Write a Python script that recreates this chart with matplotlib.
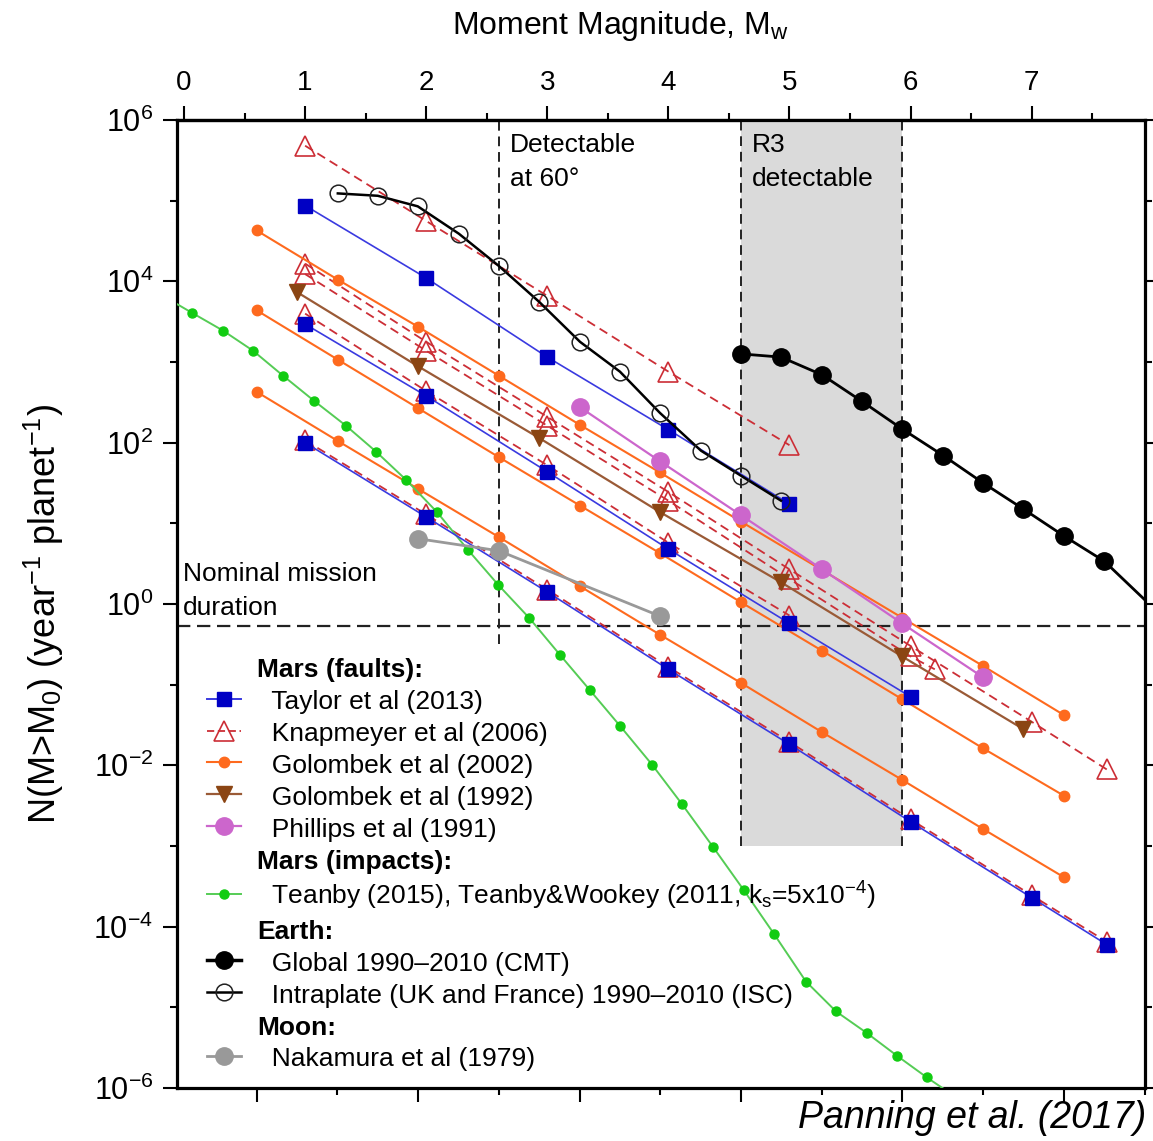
import matplotlib
matplotlib.use('Agg')
import matplotlib.pyplot as plt
from matplotlib.lines import Line2D
from matplotlib.ticker import FixedLocator, NullFormatter

plt.rcParams['font.family'] = ['Liberation Sans', 'DejaVu Sans']
plt.rcParams['mathtext.fontset'] = 'custom'
plt.rcParams['mathtext.rm'] = 'Liberation Sans'
plt.rcParams['mathtext.it'] = 'Liberation Sans:italic'
plt.rcParams['mathtext.bf'] = 'Liberation Sans:bold'

# ---------------- data (Mw, N per year per planet) ----------------
taylor_mw = [[1, 2, 3, 4, 5],
             [1, 2, 3, 4, 5, 6],
             [1, 2, 3, 4, 5, 6, 7, 7.62]]
taylor_n = [[8.7e4, 1.1e4, 1150, 145, 17.4],
            [2950, 380, 43.6, 4.8, 0.575, 0.0708],
            [100, 12.0, 1.41, 0.155, 0.0182, 0.0020, 2.29e-4, 6.0e-5]]

knap_mw = [[1, 2, 3, 4, 5],
           [1, 2, 3, 4, 5, 6, 7, 7.62],
           [1, 2, 3, 4, 5, 6, 6.2],
           [1, 2, 3, 4, 5],
           [1, 2, 3, 4, 5, 6, 7, 7.62]]
knap_n = [[4.8e5, 5.6e4, 6600, 760, 93],
          [1.66e4, 1780, 209, 24.5, 2.69, 0.302, 0.0347, 0.0089],
          [1.23e4, 1380, 162, 19.1, 2.04, 0.224, 0.155],
          [3980, 437, 52.5, 5.75, 0.72],
          [107, 12.9, 1.51, 0.166, 0.0195, 0.00214, 2.45e-4, 6.5e-5]]

gol02_mw = [0.6, 1.27, 1.93, 2.6, 3.27, 3.93, 4.6, 5.27, 5.93, 6.6, 7.27]
gol02_n = [[4.27e4, 1.05e4, 2750, 676, 166, 42.7, 10.5, 2.63, 0.676, 0.170, 0.0417],
           [4370, 1070, 269, 66.1, 16.6, 4.27, 1.05, 0.263, 0.0661, 0.0162, 0.00417],
           [427, 105, 26.9, 6.76, 1.66, 0.417, 0.105, 0.0257, 0.00661, 0.00162, 4.07e-4]]

gol92_mw = [0.93, 1.93, 2.93, 3.93, 4.93, 5.93, 6.93]
gol92_n = [7400, 890, 115, 13.8, 1.86, 0.224, 0.0282]

phil_mw = [3.27, 3.93, 4.6, 5.27, 5.93, 6.6]
phil_n = [275, 58.9, 12.6, 2.69, 0.575, 0.123]

teanby_mw = [-0.186, 0.066, 0.322, 0.570, 0.818, 1.073, 1.338, 1.585, 1.833, 2.089,
             2.345, 2.593, 2.849, 3.105, 3.353, 3.600, 3.865, 4.112, 4.368, 4.624,
             4.872, 5.136, 5.384, 5.640, 5.888, 6.135, 6.391]
teanby_n = [6760, 4070, 2450, 1380, 676, 331, 162, 77.6, 34.7, 13.8,
            4.68, 1.74, 0.676, 0.234, 0.0851, 0.0309, 0.0102, 0.00331, 9.77e-4, 2.82e-4,
            8.13e-5, 2.09e-5, 8.91e-6, 4.79e-6, 2.51e-6, 1.35e-6, 7.41e-7]

cmt_mw = [4.6, 4.93, 5.27, 5.6, 5.93, 6.27, 6.6, 6.93, 7.27, 7.6, 7.95]
cmt_n = [1260, 1150, 692, 324, 148, 69.2, 31.6, 15.1, 6.92, 3.39, 1.07]

intra_mw = [1.27, 1.6, 1.93, 2.27, 2.6, 2.93, 3.27, 3.6, 3.93, 4.27, 4.6, 4.93]
intra_n = [1.23e5, 1.15e5, 8.51e4, 3.89e4, 1.55e4, 5620, 1780, 759, 234, 79.4, 38.9, 19.1]

nak_mw = [1.93, 2.6, 3.93]
nak_n = [6.46, 4.57, 0.708]

mission_n = 0.53          # nominal mission duration level
detect60_mw = 2.6         # detectable at 60 deg
r3_mw = [4.6, 5.933]      # R3 detectable band
r3_nmin = 1e-3

top_ticks = [0, 1, 2, 3, 4, 5, 6, 7]
top_minor = [0.5, 1.5, 2.5, 3.5, 4.5, 5.5, 6.5, 7.5]
logm0_major = [10, 12, 14, 16, 18, 20]
logm0_minor = [9, 11, 13, 15, 17, 19, 21]
y_major_exp = [-6, -4, -2, 0, 2, 4, 6]
y_minor_exp = [-5, -3, -1, 1, 3, 5]

# ---------------- figure ----------------
W, H = 1153, 1141
fig = plt.figure(figsize=(W / 100, H / 100), dpi=100)
ax = fig.add_axes([177 / W, 1 - 1088 / H, (1145 - 177) / W, (1088 - 120) / H])
ax.set_yscale('log')
ax.set_xlim(-0.058, 7.936)
ax.set_ylim(1e-6, 1e6)

# R3 band & reference lines
ax.fill_between(r3_mw, r3_nmin, 1e6, color='#dadada', lw=0, zorder=0.5)
ax.vlines(r3_mw, r3_nmin, 1e6, colors='#222222', linestyles=(0, (5, 3)), lw=1.4, zorder=2)
ax.vlines(detect60_mw, 10 ** -0.5, 1e6, colors='#222222', linestyles=(0, (5, 3)), lw=1.4, zorder=2)
ax.axhline(mission_n, color='#222222', ls=(0, (6, 3)), lw=1.6, zorder=2)

# series
kc = '#cc2e36'
for i, (m, n) in enumerate(zip(knap_mw, knap_n)):
    ax.plot(m, n, ls=(0, (5, 3)), color=kc, lw=1.3, marker='^', ms=14,
            mfc='none', mec=kc, mew=1.2, zorder=3)

oc = '#fe6a1e'
for i, n in enumerate(gol02_n):
    l = ax.plot(gol02_mw, n, '-', color=oc, lw=1.5, marker='o', ms=7.5, mfc=oc, mec=oc, zorder=4)
    if i == 0:
        h_g02 = l[0]

h_g92, = ax.plot(gol92_mw, gol92_n, '-', color='#9a5a36', lw=1.6, marker='v', ms=11,
                 mfc='#8b4513', mec='#8b4513', zorder=5)

bc = '#0000c4'
for i, (m, n) in enumerate(zip(taylor_mw, taylor_n)):
    ax.plot(m, n, '-', color='#3a3ae0', lw=1.2, marker='s', ms=10, mfc=bc, mec=bc, zorder=6)

h_phil, = ax.plot(phil_mw, phil_n, '-', color='#cc66cc', lw=1.6, marker='o', ms=12.5,
                  mfc='#cc66cc', mec='#cc66cc', zorder=7)

h_tea, = ax.plot(teanby_mw, teanby_n, '-', color='#55cc55', lw=1.4, marker='o', ms=6.5,
                 mfc='#11cc11', mec='#11cc11', zorder=5)

h_nak, = ax.plot(nak_mw, nak_n, '-', color='#999999', lw=2, marker='o', ms=12.5,
                 mfc='#999999', mec='#999999', zorder=6)

h_intra, = ax.plot(intra_mw, intra_n, '-', color='black', lw=1.8, marker='o', ms=12,
                   mfc='none', mec='#222222', mew=1.1, zorder=8)

ax.plot(cmt_mw, cmt_n, '-', color='black', lw=2, zorder=8)
ax.plot(cmt_mw[:-1], cmt_n[:-1], 'o', color='black', ms=12.5, zorder=9)
h_cmt_leg = Line2D([], [], color='black', lw=2.5, marker='o', ms=12.5)

# ticks
ax.xaxis.set_major_locator(FixedLocator([2 / 3 * (v - 9.1) for v in logm0_major]))
ax.xaxis.set_minor_locator(FixedLocator([2 / 3 * (v - 9.1) for v in logm0_minor]))
ax.xaxis.set_major_formatter(NullFormatter())
ax.xaxis.set_minor_formatter(NullFormatter())
ax.yaxis.set_major_locator(FixedLocator([10.0 ** e for e in y_major_exp]))
ax.yaxis.set_minor_locator(FixedLocator([10.0 ** e for e in y_minor_exp]))
ax.set_yticklabels([r'$10^{%d}$' % e for e in y_major_exp])
ax.yaxis.set_minor_formatter(NullFormatter())
ax.tick_params(which='both', direction='out', right=True, top=False, labelright=False,
               width=1.5)
ax.tick_params(which='major', length=10, labelsize=22, pad=7)
ax.tick_params(which='minor', length=5)
for s in ax.spines.values():
    s.set_linewidth(2.3)

sec = ax.secondary_xaxis('top')
sec.set_xticks(top_ticks)
sec.set_xticks(top_minor, minor=True)
sec.set_xticklabels([str(t) for t in top_ticks])
sec.tick_params(which='both', direction='out', width=1.5)
sec.tick_params(which='major', length=10, labelsize=20, pad=7)
sec.tick_params(which='minor', length=5)
sec.spines['top'].set_linewidth(2.3)

ax.set_ylabel(r'N(M>M$_0$) (year$^{-1}$ planet$^{-1}$)', fontsize=26)
ax.yaxis.set_label_coords(-0.115, 0.49)
fig.text(620 / W, 1 - 26 / H, r'Moment Magnitude, M$_\mathrm{w}$', ha='center', va='center',
         fontsize=23)
fig.text(1146 / W, 1 - 1118 / H, 'Panning et al. (2017)', ha='right', va='center',
         fontsize=27, style='italic')

# annotations
ax.text(2.69, 10 ** 5.48, 'Detectable\nat 60°', ha='left', va='center', fontsize=19,
        linespacing=1.55, zorder=10)
ax.text(4.69, 10 ** 5.48, 'R3\ndetectable', ha='left', va='center', fontsize=19,
        linespacing=1.55, zorder=10)
ax.text(-0.01, 10 ** 0.165, 'Nominal mission\nduration', ha='left', va='center', fontsize=19,
        linespacing=1.52, zorder=10)

# legend
blank = Line2D([], [], ls='none', marker='none')
h_tay_leg = Line2D([], [], color='#3a3ae0', lw=1.4, marker='s', ms=10, mfc=bc, mec=bc)
h_knap_leg = Line2D([], [], color=kc, lw=1.3, ls=(0, (4, 2)), marker='^', ms=14, mfc='none', mec=kc, mew=1.2)
handles = [blank, h_tay_leg, h_knap_leg, h_g02, h_g92, h_phil, blank, h_tea, blank, h_cmt_leg,
           h_intra, blank, h_nak]
labels = ['Mars (faults):', '  Taylor et al (2013)', '  Knapmeyer et al (2006)',
          '  Golombek et al (2002)', '  Golombek et al (1992)', '  Phillips et al (1991)',
          'Mars (impacts):',
          '  Teanby (2015), Teanby&Wookey (2011, k$_\\mathrm{s}$=5x10$^{-4}$)',
          'Earth:', '  Global 1990–2010 (CMT)',
          '  Intraplate (UK and France) 1990–2010 (ISC)', 'Moon:', '  Nakamura et al (1979)']
leg = ax.legend(handles, labels, loc='upper left', bbox_to_anchor=(0.031, 0.446),
                frameon=False, fontsize=19, handlelength=1.3, handletextpad=0.6,
                handleheight=1.0, labelspacing=0.23, borderpad=0, borderaxespad=0,
                numpoints=1)
leg.set_zorder(12)
for t in leg.get_texts():
    if not t.get_text().startswith(' '):
        t.set_fontweight('bold')

fig.savefig('out.png', dpi=100)
